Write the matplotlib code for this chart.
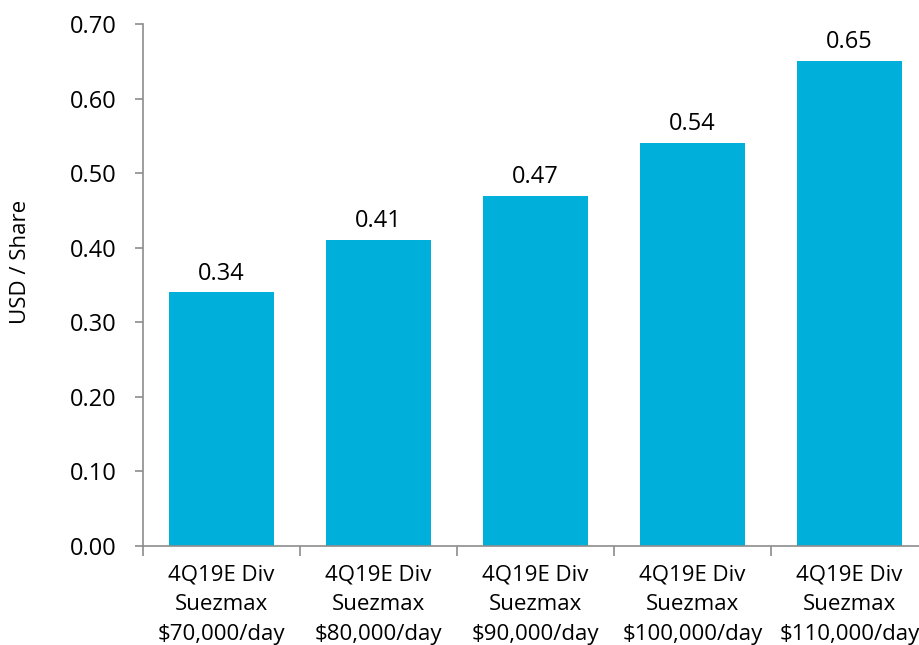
import matplotlib.pyplot as plt
import numpy as np

plt.rcParams['font.family'] = ['Open Sans', 'DejaVu Sans']

categories = ['4Q19E Div\nSuezmax\n$70,000/day',
              '4Q19E Div\nSuezmax\n$80,000/day',
              '4Q19E Div\nSuezmax\n$90,000/day',
              '4Q19E Div\nSuezmax\n$100,000/day',
              '4Q19E Div\nSuezmax\n$110,000/day']
values = [0.34, 0.41, 0.47, 0.54, 0.65]
bar_color = '#00B0DB'
axis_color = '#8C8C8C'

fig = plt.figure(figsize=(9.2, 6.45), dpi=100)
ax = fig.add_axes([143 / 920, 99 / 645, 785 / 920, 522 / 645])

x = np.arange(len(values))
bars = ax.bar(x, values, width=0.665, color=bar_color)
for b, v in zip(bars, values):
    ax.annotate(f'{v:.2f}', (b.get_x() + b.get_width() / 2, v),
                xytext=(0, 5), textcoords='offset points',
                ha='center', va='bottom', fontsize=17)

ax.set_xlim(-0.5, len(values) - 0.5)
ax.set_ylim(0, 0.70)
ax.set_yticks(np.arange(0, 0.71, 0.1))
ax.set_yticklabels([f'{t:.2f}' for t in np.arange(0, 0.71, 0.1)])
ax.set_xticks(x)
ax.set_xticklabels(categories, fontsize=16, linespacing=1.55)
ax.set_xticks(np.arange(-0.5, len(values), 1), minor=True)

ax.tick_params(axis='x', which='major', length=0, pad=13)
ax.tick_params(axis='x', which='minor', length=7, color=axis_color, width=1.2)
ax.tick_params(axis='y', length=6, color=axis_color, width=1.2, pad=13, labelsize=17)

for s in ['top', 'right']:
    ax.spines[s].set_visible(False)
for s in ['left', 'bottom']:
    ax.spines[s].set_color(axis_color)
    ax.spines[s].set_linewidth(1.2)

ax.set_ylabel('USD / Share', fontsize=16)
ax.yaxis.set_label_coords(-0.143, 0.544)

fig.savefig('out.png', dpi=100)
